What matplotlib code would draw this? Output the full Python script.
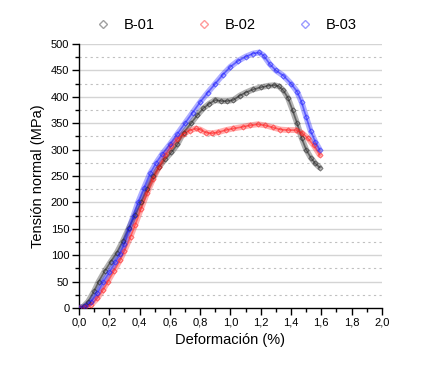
import matplotlib
matplotlib.use("Agg")
import matplotlib.pyplot as plt
from matplotlib.ticker import MultipleLocator, FuncFormatter
from matplotlib.lines import Line2D

plt.rcParams['font.family'] = ['Liberation Sans', 'DejaVu Sans']

labels = ["B-01", "B-02", "B-03"]
colors = ["#202020", "#ff1a1a", "#1a1aff"]
legend_colors = ["#a0a0a0", "#ff9a9a", "#9a9aff"]

b01_x = [0.0, 0.03, 0.06, 0.1, 0.13, 0.17, 0.21, 0.25, 0.29, 0.33, 0.37, 0.41, 0.45, 0.49,
         0.53, 0.57, 0.61, 0.65, 0.69, 0.74, 0.78, 0.82, 0.86, 0.9, 0.94, 0.98, 1.02, 1.06,
         1.1, 1.15, 1.2, 1.25, 1.29, 1.32, 1.35, 1.38, 1.41, 1.44, 1.47, 1.5, 1.53, 1.56, 1.59]
b01_y = [0, 3, 12, 32, 50, 70, 88, 105, 127, 152, 176, 200, 226, 250,
         268, 282, 295, 310, 332, 350, 365, 378, 387, 394, 392, 392, 394, 402,
         408, 414, 418, 421, 422, 420, 412, 398, 375, 350, 322, 300, 285, 274, 266]

b02_x = [0.0, 0.04, 0.08, 0.12, 0.16, 0.19, 0.23, 0.27, 0.3, 0.34, 0.37, 0.41, 0.45, 0.49,
         0.53, 0.57, 0.61, 0.65, 0.69, 0.73, 0.77, 0.8, 0.84, 0.88, 0.92, 0.97, 1.02, 1.08,
         1.13, 1.18, 1.23, 1.28, 1.33, 1.38, 1.43, 1.47, 1.51, 1.55, 1.59]
b02_y = [0, 1, 6, 18, 35, 50, 70, 90, 108, 135, 157, 188, 218, 245,
         268, 290, 307, 320, 330, 336, 340, 338, 332, 331, 333, 337, 340, 343,
         346, 348, 346, 342, 338, 337, 337, 332, 322, 308, 290]

b03_x = [0.0, 0.04, 0.08, 0.12, 0.16, 0.2, 0.24, 0.27, 0.3, 0.33, 0.36, 0.39, 0.43, 0.47,
         0.51, 0.55, 0.6, 0.65, 0.7, 0.75, 0.8, 0.85, 0.9, 0.95, 1.0, 1.05, 1.1, 1.15,
         1.19, 1.22, 1.26, 1.3, 1.35, 1.4, 1.44, 1.47, 1.5, 1.53, 1.56, 1.59]
b03_y = [0, 3, 12, 28, 50, 68, 88, 102, 122, 150, 175, 200, 228, 255,
         275, 292, 310, 330, 350, 370, 390, 408, 425, 442, 457, 468, 476, 482,
         484, 478, 462, 450, 440, 425, 410, 390, 362, 335, 315, 300]

series = [(b01_x, b01_y), (b02_x, b02_y), (b03_x, b03_y)]

fig = plt.figure(figsize=(4.44, 3.70), dpi=100)
ax = fig.add_axes([0.178, 0.1676, 0.682, 0.7134])

for (xs, ys), c in zip(series, colors):
    ax.plot(xs, ys, color=c, lw=4.2, alpha=0.35, solid_capstyle='round',
            solid_joinstyle='round', zorder=3)
    ax.plot(xs, ys, color=c, lw=1.2, alpha=0.55, zorder=3)
    ax.plot(xs, ys, ls='none', marker='D', ms=2.6, mfc='none', mec=c, mew=0.7,
            alpha=0.6, zorder=4)

ax.set_xlim(0, 2.0)
ax.set_ylim(0, 500)
ax.xaxis.set_major_locator(MultipleLocator(0.2))
ax.xaxis.set_minor_locator(MultipleLocator(0.1))
ax.yaxis.set_major_locator(MultipleLocator(50))
ax.yaxis.set_minor_locator(MultipleLocator(25))
ax.xaxis.set_major_formatter(FuncFormatter(lambda v, p: f"{v:.1f}".replace('.', ',')))

ax.grid(False)
for v in range(50, 501, 50):
    ax.axhline(v, color='#d4d4d4', lw=1.0, zorder=1)
for v in range(25, 500, 50):
    ax.axhline(v, color='#c0c0c0', lw=0.8, ls=(0, (2, 3)), zorder=1)

for s in ['top', 'right']:
    ax.spines[s].set_visible(False)
for s in ['left', 'bottom']:
    ax.spines[s].set_linewidth(1.0)
    ax.spines[s].set_color('black')

ax.tick_params(which='major', direction='out', length=5, width=1, labelsize=8, pad=2)
ax.tick_params(which='minor', direction='out', length=3, width=1)

ax.set_xlabel("Deformación (%)", fontsize=10.5, labelpad=4)
ax.set_ylabel("Tensión normal (MPa)", fontsize=10.5, labelpad=4)

handles = [Line2D([], [], ls='none', marker='D', ms=4, mfc='none', mec=lc, mew=1.0)
           for lc in legend_colors]
fig.legend(handles, labels, loc='center', bbox_to_anchor=(0.505, 0.932), ncol=3,
           frameon=False, fontsize=10.5, handletextpad=0.7, columnspacing=2.6,
           handlelength=1.5)

fig.savefig("out.png", dpi=100)
